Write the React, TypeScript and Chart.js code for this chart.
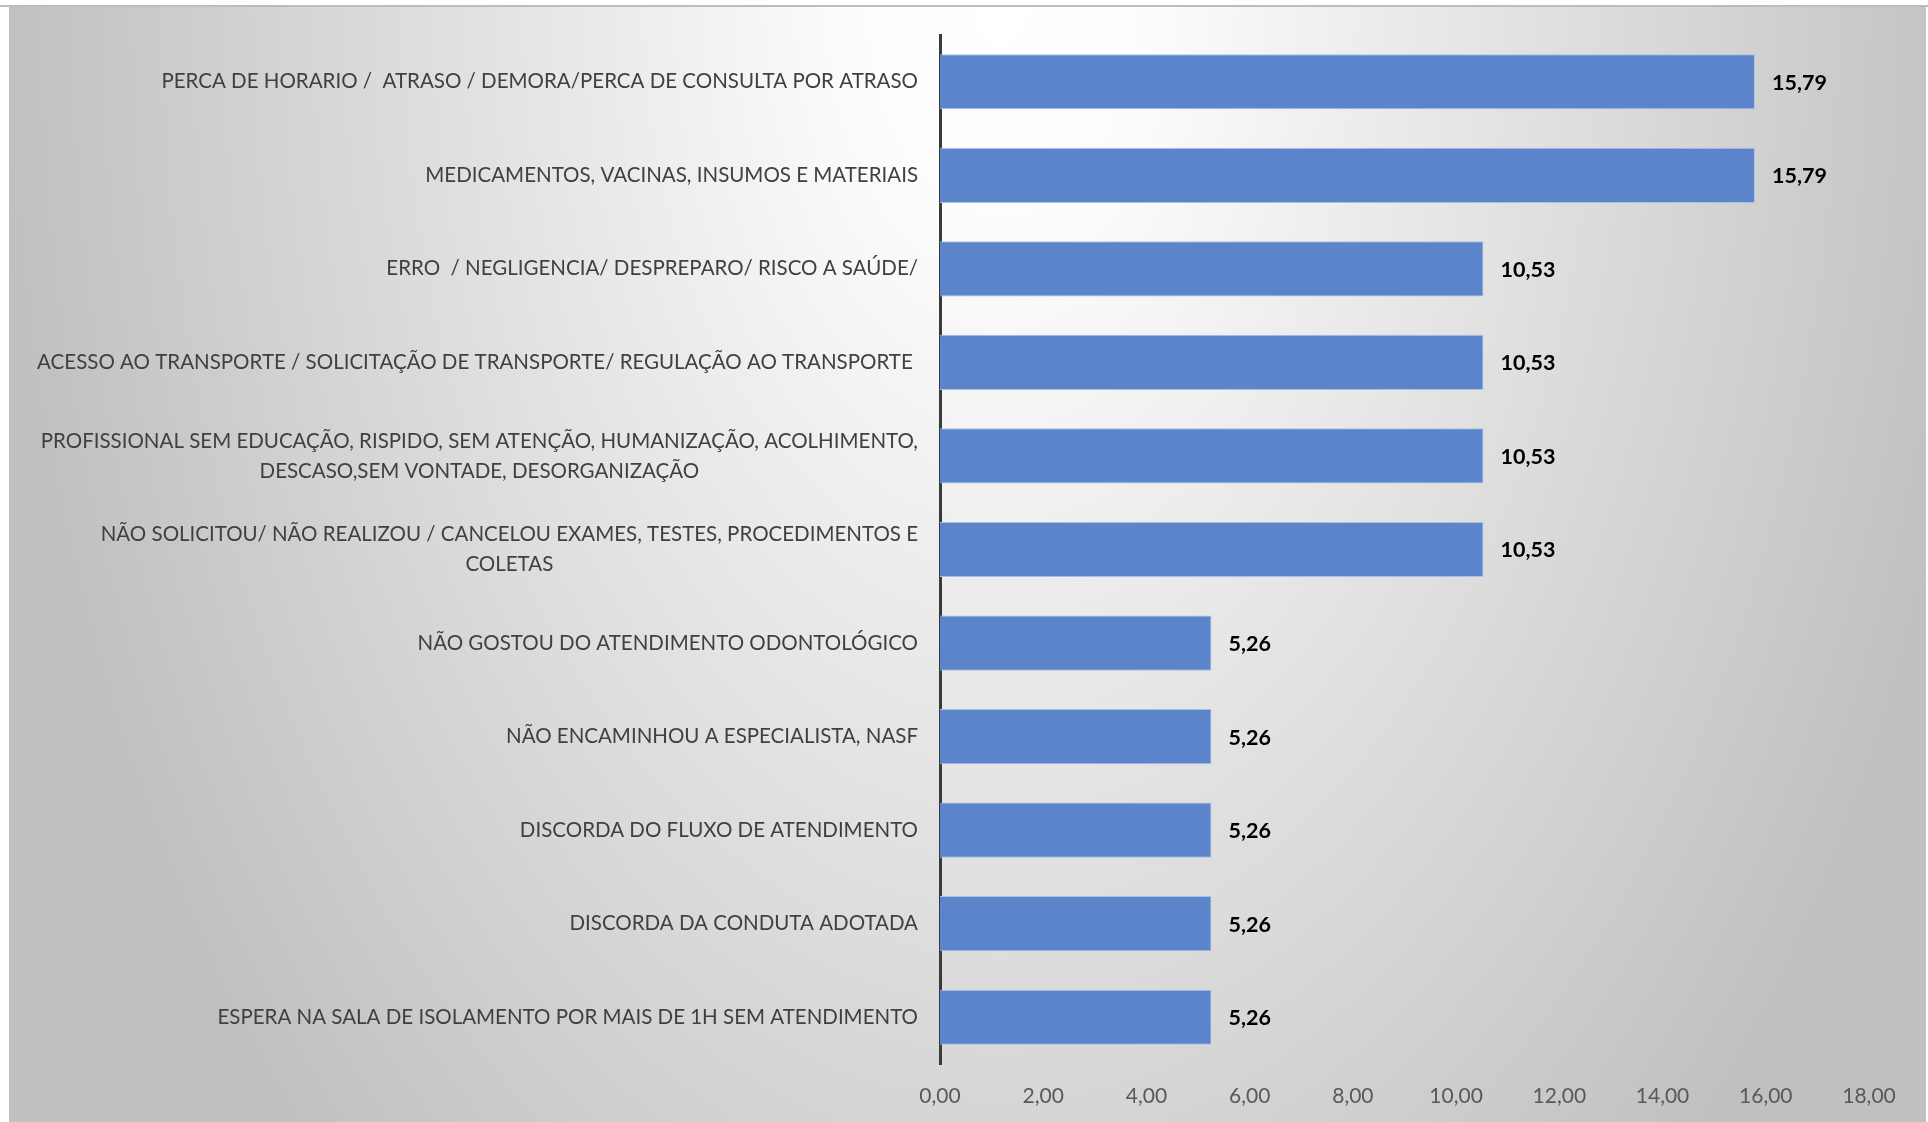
import React, { useEffect, useRef } from "react";
import { Chart, registerables } from "chart.js";

Chart.register(...registerables);

const categories: string[][] = [
  ["PERCA DE HORARIO /  ATRASO / DEMORA/PERCA DE CONSULTA POR ATRASO"],
  ["MEDICAMENTOS, VACINAS, INSUMOS E MATERIAIS"],
  ["ERRO  / NEGLIGENCIA/ DESPREPARO/ RISCO A SAÚDE/"],
  ["ACESSO AO TRANSPORTE / SOLICITAÇÃO DE TRANSPORTE/ REGULAÇÃO AO TRANSPORTE "],
  ["PROFISSIONAL SEM EDUCAÇÃO, RISPIDO, SEM ATENÇÃO, HUMANIZAÇÃO, ACOLHIMENTO,", "DESCASO,SEM VONTADE, DESORGANIZAÇÃO"],
  ["NÃO SOLICITOU/ NÃO REALIZOU / CANCELOU EXAMES, TESTES, PROCEDIMENTOS E", "COLETAS"],
  ["NÃO GOSTOU DO ATENDIMENTO ODONTOLÓGICO"],
  ["NÃO ENCAMINHOU A ESPECIALISTA, NASF"],
  ["DISCORDA DO FLUXO DE ATENDIMENTO"],
  ["DISCORDA DA CONDUTA ADOTADA"],
  ["ESPERA NA SALA DE ISOLAMENTO POR MAIS DE 1H SEM ATENDIMENTO"],
];

const values: number[] = [15.79, 15.79, 10.53, 10.53, 10.53, 10.53, 5.26, 5.26, 5.26, 5.26, 5.26];

const xMin = 0;
const xMax = 18;
const xStep = 2;

const fmt = (v: number) => v.toFixed(2).replace(".", ",");

const FONT = "Lato, 'Open Sans', sans-serif";

const backgroundPlugin = {
  id: "bgPanel",
  beforeDraw(chart: any) {
    const { ctx, width, height } = chart;
    ctx.save();
    ctx.fillStyle = "#ffffff";
    ctx.fillRect(0, 0, width, height);
    const left = 9, top = 6, right = width - 2, bottom = height;
    const cx = 1000, cy = 0, rx = 1000, ry = 1600;
    ctx.save();
    ctx.beginPath();
    ctx.rect(left, top, right - left, bottom - top);
    ctx.clip();
    ctx.translate(cx, cy);
    ctx.scale(1, ry / rx);
    const g = ctx.createRadialGradient(0, 0, 0, 0, 0, rx);
    g.addColorStop(0, "#ffffff");
    g.addColorStop(0.15, "#fcfcfc");
    g.addColorStop(1, "#c0c0c0");
    ctx.fillStyle = g;
    ctx.fillRect(-cx - 10, -10, width + 20, (height + 20) * rx / ry);
    ctx.restore();
    ctx.fillStyle = "#bdbdbd";
    ctx.fillRect(0, 5, width, 2);
    ctx.restore();
  },
};

const labelsPlugin = {
  id: "catLabels",
  afterDraw(chart: any) {
    const { ctx } = chart;
    const yScale = chart.scales.y;
    const R = 918;
    const lh = 30;
    ctx.save();
    ctx.font = `20.5px ${FONT}`;
    ctx.fillStyle = "#404040";
    ctx.textBaseline = "middle";
    categories.forEach((lines, i) => {
      const yc = yScale.getPixelForValue(i);
      const widths = lines.map((l) => ctx.measureText(l).width);
      const bw = Math.max(...widths);
      const y0 = yc - ((lines.length - 1) * lh) / 2;
      lines.forEach((l, j) => {
        if (lines.length === 1) {
          ctx.textAlign = "right";
          ctx.fillText(l, R, y0);
        } else {
          ctx.textAlign = "center";
          ctx.fillText(l, R - bw / 2, y0 + j * lh);
        }
      });
    });
    ctx.font = `bold 21.5px ${FONT}`;
    ctx.fillStyle = "#000000";
    ctx.textAlign = "left";
    const meta = chart.getDatasetMeta(0);
    meta.data.forEach((bar: any, i: number) => {
      ctx.fillText(fmt(values[i]), bar.x + 17, bar.y + 1);
    });
    ctx.restore();
  },
};

export default function App() {
  const ref = useRef<HTMLCanvasElement | null>(null);
  useEffect(() => {
    document.body.style.margin = "0";
    const canvas = ref.current;
    if (!canvas) return;
    const chart = new Chart(canvas, {
      type: "bar",
      data: {
        labels: categories.map((c) => c.join(" ")),
        datasets: [
          {
            data: values,
            backgroundColor: "#5b84cb",
            borderColor: "#a9c0e6",
            borderWidth: 1,
            categoryPercentage: 1,
            barPercentage: 0.59,
          },
        ],
      },
      options: {
        indexAxis: "y",
        responsive: false,
        animation: false,
        layout: { padding: { left: 940, right: 59, top: 35, bottom: 0 } },
        plugins: { legend: { display: false }, tooltip: { enabled: false }, title: { display: false } },
        scales: {
          x: {
            min: xMin,
            max: xMax,
            ticks: {
              stepSize: xStep,
              callback: (v: any) => fmt(Number(v)),
              color: "#595959",
              font: { family: FONT, size: 21 },
              padding: 20,
              maxRotation: 0,
            },
            grid: { display: false, drawTicks: false },
            border: { display: false },
            afterFit: (s: any) => {
              s.height = 58;
            },
          },
          y: {
            ticks: { display: false },
            grid: { display: false, drawTicks: false },
            border: { display: true, color: "#3a3a3a", width: 3 },
            afterFit: (s: any) => {
              s.width = 0;
            },
          },
        },
      },
      plugins: [backgroundPlugin, labelsPlugin],
    });
    return () => chart.destroy();
  }, []);
  return <canvas ref={ref} width={1928} height={1122} style={{ display: "block", width: 1928, height: 1122 }} />;
}
